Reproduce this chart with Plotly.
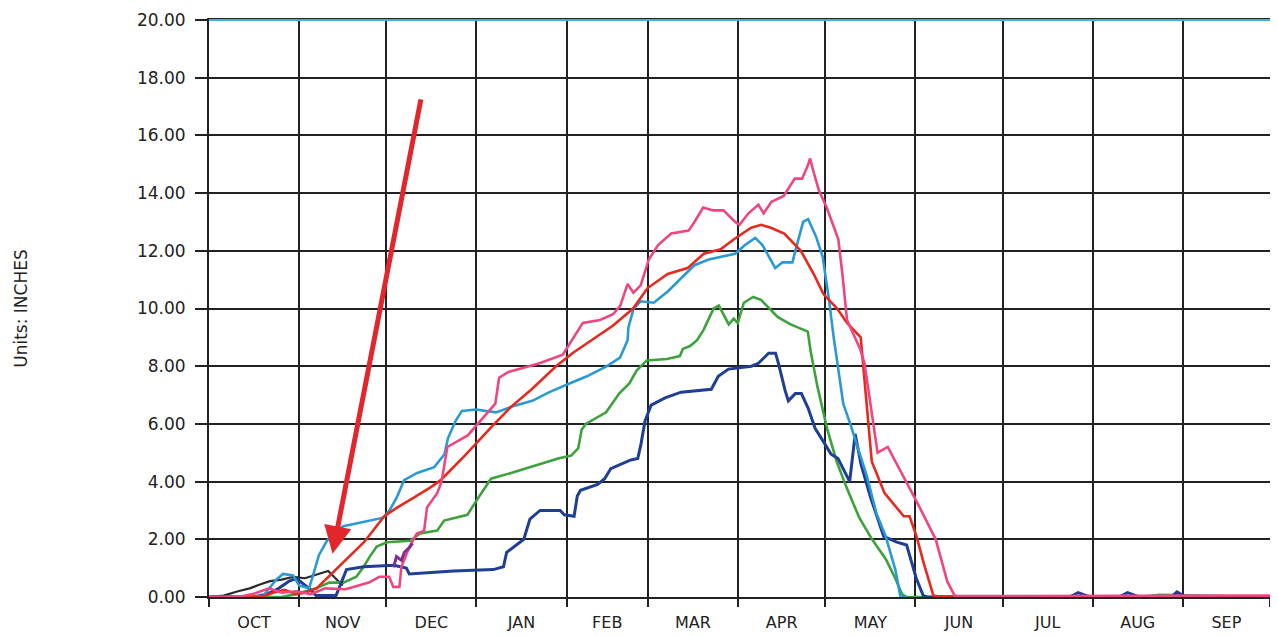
import plotly.graph_objects as go

# ---- axis definitions (water year: day 0 = Oct 1) ----
month_starts = [0, 31, 61, 92, 123, 151, 182, 212, 243, 273, 304, 335, 365]
month_mids = [15.5, 46, 76.5, 107.5, 137, 166.5, 197, 227.5, 258, 288.5, 319.5, 350]
month_labels = ["OCT", "NOV", "DEC", "JAN", "FEB", "MAR", "APR", "MAY", "JUN", "JUL", "AUG", "SEP"]
y_ticks = [0, 2, 4, 6, 8, 10, 12, 14, 16, 18, 20]

# ---- series (day of water year, inches) ----
pink_days = [0, 10, 15, 20.7, 25, 30, 35, 40, 47, 55, 58.6, 62, 63.4, 65.5, 66.2, 69, 71.5, 74, 75, 78.5,
             80, 82, 89, 92.5, 98.5, 99.8, 103, 113.7, 121.7, 128.6, 134.5, 139, 141.5, 144, 146, 148.5,
             151.3, 154.5, 159, 165, 167, 170, 173.5, 177, 181, 182.5, 185.6, 189, 190.8, 193.5, 197.7,
             201.5, 204, 205.8, 206.8, 207.8, 209.8, 212.5, 215, 216.5, 218, 219.5, 224, 225.5, 230, 233.5,
             243.5, 250, 254, 256.5, 258, 300, 365]
pink_vals = [0, 0, 0.1, 0.3, 0.15, 0.2, 0.1, 0.3, 0.27, 0.5, 0.7, 0.7, 0.35, 0.35, 1.05, 1.75, 2.2, 2.3, 3.1, 3.6,
             4.0, 5.2, 5.6, 6.0, 6.7, 7.6, 7.8, 8.1, 8.4, 9.5, 9.6, 9.8, 10.1, 10.85, 10.55, 10.8,
             11.7, 12.2, 12.6, 12.7, 13.0, 13.5, 13.4, 13.4, 13.0, 12.9, 13.3, 13.6, 13.3, 13.7, 13.9,
             14.5, 14.5, 14.9, 15.2, 14.8, 14.1, 13.5, 12.8, 12.4, 11.1, 9.6, 8.6, 8.1, 5.0, 5.2,
             3.3, 2.0, 0.53, 0.05, 0.03, 0.03, 0.05]

red_days = [0, 18, 22, 26, 30, 33, 37, 43.8, 48.5, 53.3, 60.3, 64.7, 70.6, 76.2, 79.7, 88, 97.2, 104, 111,
            119.4, 125, 134.3, 138.9, 145.9, 150.8, 157.8, 164.6, 170.2, 176, 180.6, 186.5, 190, 193.3,
            197.9, 203.6, 208, 211.4, 216.1, 219.5, 224.2, 226, 228, 232.4, 239, 241, 243.4, 245.8, 249.2,
            251, 365]
red_vals = [0, 0, 0.15, 0.25, 0.1, 0.15, 0.3, 0.97, 1.4, 1.9, 2.8, 3.1, 3.45, 3.8, 4.05, 4.9, 5.9, 6.6, 7.2,
            8.0, 8.45, 9.1, 9.4, 10.0, 10.7, 11.2, 11.4, 11.9, 12.05, 12.4, 12.8, 12.9, 12.8,
            12.6, 12.0, 11.2, 10.5, 10.0, 9.5, 9.0, 7.0, 4.7, 3.6, 2.8, 2.8, 2.1, 1.2, 0.05,
            0.02, 0.02]

ltblue_days = [0, 12, 18.6, 23.1, 25.5, 28.9, 31, 34.4, 35.8, 37.8, 40.3, 42.7, 46.2, 50.7, 55.2, 60, 62.1,
               64.6, 67.1, 71.6, 77.5, 81, 82.2, 84.8, 87, 91.8, 98.7, 104.2, 111.2, 117.1, 124, 130,
               136.9, 141.4, 144, 144.3, 146.1, 148.5, 153, 157.9, 162.4, 167, 171.9, 176.4, 181, 184.4,
               187.9, 190.4, 192.8, 194.8, 197.3, 200.7, 202.5, 204.4, 206.1, 208.8, 211.1, 213.3, 214.9,
               218.2, 220.6, 222.9, 226.3, 229.6, 232.8, 236.1, 237.9, 240]
ltblue_vals = [0, 0, 0.03, 0.6, 0.8, 0.75, 0.4, 0.3, 0.75, 1.45, 1.9, 2.25, 2.45, 2.55, 2.65, 2.75, 3.0,
               3.45, 4.05, 4.3, 4.5, 4.95, 5.5, 6.1, 6.45, 6.5, 6.4, 6.6, 6.8, 7.1, 7.4, 7.65,
               8.0, 8.3, 8.9, 9.35, 10.0, 10.25, 10.2, 10.6, 11.05, 11.5, 11.7, 11.8, 11.9, 12.2,
               12.45, 12.2, 11.75, 11.4, 11.6, 11.6, 12.3, 13.0, 13.1, 12.5, 11.8, 10.3, 9.0,
               6.7, 6.0, 5.3, 4.2, 2.9, 2.1, 0.95, 0.0, 0.0]

green_days = [0, 25, 30, 36.8, 41.4, 46.2, 50.7, 53.2, 55.3, 57.7, 61.2, 69.2, 72.6, 78.5, 80.9, 85.4, 88.9,
              92.4, 95.9, 97, 103.9, 113.2, 120.1, 124.6, 127, 128.2, 129.6, 136.6, 141.1, 144.6, 147.1,
              150.6, 157.5, 162, 163, 165.5, 167.9, 170.1, 173.6, 175.4, 178.8, 180.5, 181.9, 184, 187.2,
              189.9, 192.3, 195.7, 200.1, 206, 207, 209.3, 212.6, 215.9, 219.3, 223.7, 228.1, 232.9,
              236.3, 238.4, 240, 320, 327, 365]
green_vals = [0, 0, 0.1, 0.3, 0.5, 0.5, 0.7, 1.05, 1.4, 1.75, 1.9, 1.95, 2.2, 2.3, 2.65, 2.75, 2.85,
              3.4, 3.9, 4.1, 4.3, 4.6, 4.8, 4.9, 5.15, 5.8, 6.0, 6.4, 7.05, 7.4, 7.85,
              8.2, 8.25, 8.35, 8.6, 8.7, 8.9, 9.25, 10.0, 10.1, 9.45, 9.65, 9.5, 10.2, 10.4,
              10.3, 10.05, 9.7, 9.45, 9.2, 8.5, 7.3, 5.85, 4.7, 3.8, 2.75, 2.0, 1.3,
              0.6, 0.1, 0.0, 0.0, 0.08, 0.0]

navy_days = [0, 15, 20, 24, 27.6, 30, 34.4, 36.8, 43.7, 46.2, 47.3, 53.2, 63.5, 67.9, 68.9, 84.1, 97.8,
             101.3, 102.4, 108.3, 109.3, 110.4, 113.9, 120.8, 122.2, 125.6, 126.7, 127.8, 133.7, 136.1,
             138.2, 145.1, 147.5, 148.6, 150, 152.1, 156.9, 162.4, 172.8, 175.2, 178.7, 186.6, 189,
             192.5, 194.9, 195.9, 198.2, 199.3, 201.7, 203.8, 206.1, 208.5, 211.9, 214, 216.4, 218.7,
             220.4, 222.3, 224.3, 227.6, 229.9, 232.1, 236.6, 240, 243.3, 245.7, 247, 296, 299, 303,
             313, 316, 320, 331, 333, 336, 365]
navy_vals = [0, 0, 0.1, 0.3, 0.55, 0.65, 0.3, 0.05, 0.05, 0.7, 0.95, 1.05, 1.1, 1.0, 0.8, 0.9, 0.95,
             1.05, 1.55, 2.0, 2.35, 2.7, 3.0, 3.0, 2.85, 2.8, 3.5, 3.7, 3.9, 4.1,
             4.45, 4.75, 4.8, 5.3, 6.1, 6.65, 6.9, 7.1, 7.2, 7.65, 7.9, 8.0, 8.1,
             8.45, 8.45, 8.1, 7.15, 6.8, 7.05, 7.05, 6.55, 5.85, 5.3, 4.95, 4.8, 4.35,
             4.0, 5.65, 4.6, 3.45, 2.75, 2.1, 1.9, 1.8, 0.65, 0.05, 0.0, 0.0, 0.15, 0.0,
             0.0, 0.15, 0.0, 0.0, 0.18, 0.0, 0.0]

purple_days = [63.5, 64.5, 66.2, 67.2, 69, 70]
purple_vals = [1.03, 1.4, 1.27, 1.55, 1.72, 1.86]

black_days = [0, 5, 10, 14, 18, 21, 25, 29, 33, 38, 41, 44, 46]
black_vals = [0, 0.05, 0.2, 0.3, 0.45, 0.55, 0.6, 0.7, 0.65, 0.8, 0.9, 0.6, 0.4]

# arrow annotation (tail -> tip), in data units
arrow_tail = (73, 17.3)
arrow_tip = (42.5, 1.5)

series = [
    ("black", black_days, black_vals, "#2a2a2a", 2.2),
    ("green", green_days, green_vals, "#3ca23c", 2.6),
    ("navy", navy_days, navy_vals, "#1f3f95", 3.0),
    ("ltblue", ltblue_days, ltblue_vals, "#2a9ad4", 2.6),
    ("red", red_days, red_vals, "#e8291f", 2.6),
    ("pink", pink_days, pink_vals, "#ef4680", 2.6),
    ("purple", purple_days, purple_vals, "#7d2e8f", 3.0),
]

fig = go.Figure()
for name, xs, ys, col, w in series:
    fig.add_trace(go.Scatter(x=xs, y=ys, mode="lines", name=name,
                             line=dict(color=col, width=w), hoverinfo="skip"))

fig.add_annotation(x=arrow_tip[0], y=arrow_tip[1], ax=arrow_tail[0], ay=arrow_tail[1],
                   xref="x", yref="y", axref="x", ayref="y", text="", showarrow=True,
                   arrowhead=2, arrowsize=1.1, arrowwidth=5, arrowcolor="#e3262b", standoff=0)

fig.update_layout(
    width=1278, height=636,
    margin=dict(l=201, r=16, t=12, b=47, autoexpand=False),
    paper_bgcolor="white", plot_bgcolor="white",
    showlegend=False,
    font=dict(family="DejaVu Sans", color="#222222"),
    shapes=[dict(type="line", xref="paper", yref="paper", x0=0, x1=1, y0=1, y1=1,
                 line=dict(color="#3fb0e0", width=2), layer="above")],
)

fig.update_xaxes(
    automargin=False,
    range=[0, 365], tickmode="array", tickvals=month_mids, ticktext=month_labels,
    ticks="", showgrid=False, zeroline=False,
    showline=True, linecolor="#222222", linewidth=2, mirror=True,
    tickfont=dict(family="DejaVu Sans", size=16, color="#222222"),
    ticklabelstandoff=10, ticklabeloverflow="allow",
    minor=dict(tickmode="array", tickvals=month_starts, ticks="outside", ticklen=8,
               tickwidth=2, tickcolor="#222222", showgrid=True, gridcolor="#222222", gridwidth=2),
)
fig.update_yaxes(
    automargin=False,
    range=[0, 20], tickmode="array", tickvals=y_ticks, tickformat=".2f",
    ticks="outside", ticklen=12, tickwidth=2, tickcolor="#222222",
    showgrid=True, gridcolor="#222222", gridwidth=2, zeroline=False,
    showline=True, linecolor="#222222", linewidth=2, mirror=True,
    tickfont=dict(family="DejaVu Sans", size=17, color="#222222"),
    ticklabelstandoff=6, ticklabeloverflow="allow",
    title=dict(text="Units: INCHES", font=dict(family="DejaVu Sans", size=17, color="#222222"),
               standoff=105),
)

fig.write_html("out.html")
